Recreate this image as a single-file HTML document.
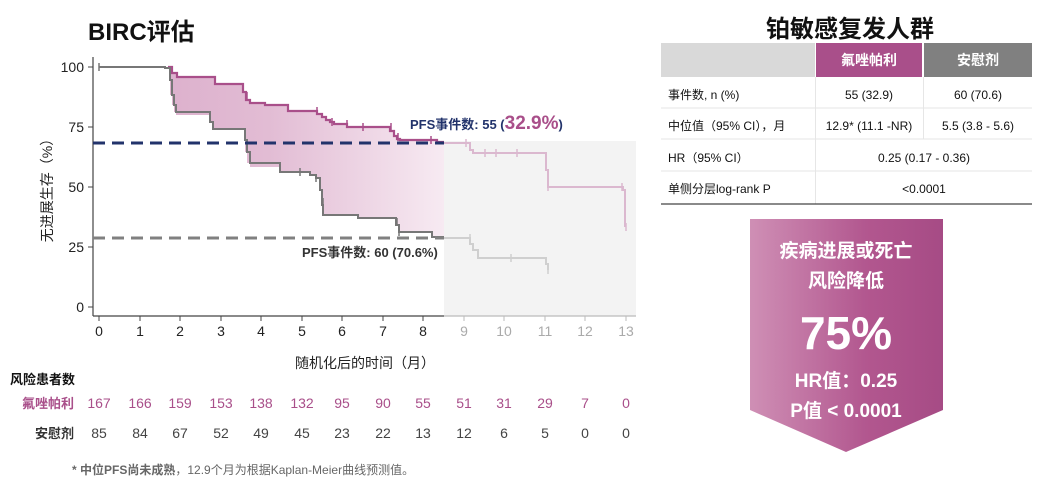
<!DOCTYPE html>
<html><head><meta charset="utf-8"><style>
body{margin:0;background:#fff;}
svg text{font-family:"Liberation Sans","Noto Sans CJK SC",sans-serif;}
</style></head><body>
<svg width="1054" height="483" viewBox="0 0 1054 483" xmlns="http://www.w3.org/2000/svg">
<defs>
<linearGradient id="fg" x1="93" x2="444" y1="0" y2="0" gradientUnits="userSpaceOnUse">
<stop offset="0" stop-color="#d9a9c8"/><stop offset="0.5" stop-color="#e2bcd4"/><stop offset="1" stop-color="#f7eaf2"/></linearGradient>
<linearGradient id="ag" x1="0" x2="1" y1="0" y2="0">
<stop offset="0" stop-color="#cf8fb5"/><stop offset="0.6" stop-color="#b2578f"/><stop offset="1" stop-color="#a64b85"/></linearGradient>
</defs>
<text x="88" y="40" font-size="24" font-weight="bold" fill="#111">BIRC评估</text>
<rect x="444" y="141" width="192" height="175" fill="#f3f3f3"/>
<path d="M168,67 H172 V73 H177 V77 H215 V84 H243 V92 H246 V100 H250 V103 H265 V105 H288 V111 H317 V114 H322 V117 H326 V120 H330 V122 H334 V124 H347 V127 H390 V131 H394 V136 H397 V139 H400 V140 H437 V142 H444 V237 H432 V232 H399 V225 H396 V218 H358 V215 H323 V205 H322 V190 H320 V178 H316 V175 H310 V172 H280 V167 H250 V163 H247 V152 H245 V140 H245 V129 H213 V122 H210 V115 H176 V112 H174 V105 H172 V95 H170 V80 H170 V68 H165 V67 Z" fill="url(#fg)"/>
<line x1="93" y1="57" x2="93" y2="316" stroke="#444" stroke-width="1.2"/>
<line x1="93" y1="316" x2="444" y2="316" stroke="#444" stroke-width="1.2"/>
<line x1="444" y1="316" x2="636" y2="316" stroke="#bbb" stroke-width="1.2"/>
<g stroke="#444"><line x1="88" y1="67" x2="93" y2="67"/><line x1="88" y1="127" x2="93" y2="127"/><line x1="88" y1="187" x2="93" y2="187"/><line x1="88" y1="247" x2="93" y2="247"/><line x1="88" y1="307" x2="93" y2="307"/></g>
<g font-size="14" fill="#222" text-anchor="end"><text x="84" y="72">100</text><text x="84" y="132">75</text><text x="84" y="192">50</text><text x="84" y="252">25</text><text x="84" y="312">0</text></g>
<g font-size="14" text-anchor="middle">
<g fill="#222"><text x="99" y="336">0</text><text x="140" y="336">1</text><text x="180" y="336">2</text><text x="221" y="336">3</text><text x="261" y="336">4</text><text x="302" y="336">5</text><text x="342" y="336">6</text><text x="383" y="336">7</text><text x="423" y="336">8</text></g>
<g fill="#aaa"><text x="464" y="336">9</text><text x="504" y="336">10</text><text x="545" y="336">11</text><text x="585" y="336">12</text><text x="626" y="336">13</text></g>
</g>
<g stroke="#444"><line x1="99" y1="316" x2="99" y2="321"/><line x1="140" y1="316" x2="140" y2="321"/><line x1="180" y1="316" x2="180" y2="321"/><line x1="221" y1="316" x2="221" y2="321"/><line x1="261" y1="316" x2="261" y2="321"/><line x1="302" y1="316" x2="302" y2="321"/><line x1="342" y1="316" x2="342" y2="321"/><line x1="383" y1="316" x2="383" y2="321"/><line x1="423" y1="316" x2="423" y2="321"/></g>
<g stroke="#bbb"><line x1="464" y1="316" x2="464" y2="321"/><line x1="504" y1="316" x2="504" y2="321"/><line x1="545" y1="316" x2="545" y2="321"/><line x1="585" y1="316" x2="585" y2="321"/><line x1="626" y1="316" x2="626" y2="321"/></g>
<text x="52" y="187" font-size="14" fill="#222" text-anchor="middle" transform="rotate(-90 52 187)">无进展生存（%）</text>
<text x="365" y="368" font-size="14" fill="#222" text-anchor="middle">随机化后的时间（月）</text>
<path d="M444,143 H470 V150 H473 V153 H546 V170 H548 V187 H623 V190 H625 V227" fill="none" stroke="#dbb8cf" stroke-width="2"/>
<path d="M444,238 H470 V244 H473 V250 H478 V258 H546 V264 H548 V270" fill="none" stroke="#cfcfcf" stroke-width="2"/>
<g stroke="#dbb8cf" stroke-width="1.5"><line x1="466" y1="139" x2="466" y2="147"/><line x1="485" y1="149" x2="485" y2="157"/><line x1="496" y1="149" x2="496" y2="157"/><line x1="517" y1="149" x2="517" y2="157"/><line x1="548" y1="183" x2="548" y2="191"/><line x1="622" y1="183" x2="622" y2="191"/><line x1="626" y1="223" x2="626" y2="231"/></g>
<g stroke="#cfcfcf" stroke-width="1.5"><line x1="470" y1="234" x2="470" y2="242"/><line x1="511" y1="254" x2="511" y2="262"/><line x1="548" y1="266" x2="548" y2="274"/></g>
<path d="M168,67 H172 V73 H177 V77 H215 V84 H243 V92 H246 V100 H250 V103 H265 V105 H288 V111 H317 V114 H322 V117 H326 V120 H330 V122 H334 V124 H347 V127 H390 V131 H394 V136 H397 V139 H400 V140 H437 V142 H444" fill="none" stroke="#a94f8a" stroke-width="2.2"/>
<path d="M99,67 H165 V68 H170 V80 H172 V95 H174 V105 H176 V112 H210 V115 H210 V122 H213 V129 H245 V140 H247 V152 H250 V163 H280 V167 H280 V172 H310 V175 H316 V178 H320 V190 H322 V205 H323 V215 H358 V218 H396 V225 H399 V232 H432 V237 H444" fill="none" stroke="#777" stroke-width="2"/>
<g stroke="#a94f8a" stroke-width="1.5"><line x1="247" y1="92" x2="247" y2="100"/><line x1="317" y1="107" x2="317" y2="115"/><line x1="332" y1="118" x2="332" y2="126"/><line x1="347" y1="120" x2="347" y2="128"/><line x1="363" y1="123" x2="363" y2="131"/><line x1="391" y1="123" x2="391" y2="131"/><line x1="398" y1="133" x2="398" y2="141"/><line x1="431" y1="136" x2="431" y2="144"/></g>
<g stroke="#777" stroke-width="1.5"><line x1="99" y1="63" x2="99" y2="71"/><line x1="300" y1="168" x2="300" y2="176"/><line x1="316" y1="174" x2="316" y2="182"/><line x1="323" y1="198" x2="323" y2="206"/><line x1="397" y1="218" x2="397" y2="226"/><line x1="399" y1="228" x2="399" y2="236"/></g>
<line x1="93" y1="143" x2="444" y2="143" stroke="#22336b" stroke-width="3" stroke-dasharray="12,7"/>
<line x1="93" y1="238" x2="444" y2="238" stroke="#808080" stroke-width="3" stroke-dasharray="12,7"/>
<text x="410" y="129" font-size="13" font-weight="bold" fill="#22336b">PFS事件数: 55 (<tspan font-size="19" fill="#a94f8a">32.9%</tspan>)</text>
<text x="302" y="257" font-size="13" font-weight="bold" fill="#333">PFS事件数: 60 (70.6%)</text>
<text x="10" y="384" font-size="13" font-weight="bold" fill="#111">风险患者数</text>
<text x="22" y="408" font-size="13" font-weight="bold" fill="#a94f8a">氟唑帕利</text>
<text x="35" y="438" font-size="13" font-weight="bold" fill="#333">安慰剂</text>
<g font-size="14" fill="#a94f8a" text-anchor="middle"><text x="99" y="408">167</text><text x="140" y="408">166</text><text x="180" y="408">159</text><text x="221" y="408">153</text><text x="261" y="408">138</text><text x="302" y="408">132</text><text x="342" y="408">95</text><text x="383" y="408">90</text><text x="423" y="408">55</text><text x="464" y="408">51</text><text x="504" y="408">31</text><text x="545" y="408">29</text><text x="585" y="408">7</text><text x="626" y="408">0</text></g>
<g font-size="14" fill="#444" text-anchor="middle"><text x="99" y="438">85</text><text x="140" y="438">84</text><text x="180" y="438">67</text><text x="221" y="438">52</text><text x="261" y="438">49</text><text x="302" y="438">45</text><text x="342" y="438">23</text><text x="383" y="438">22</text><text x="423" y="438">13</text><text x="464" y="438">12</text><text x="504" y="438">6</text><text x="545" y="438">5</text><text x="585" y="438">0</text><text x="626" y="438">0</text></g>
<text x="72" y="474" font-size="12" fill="#666"><tspan font-weight="bold">* 中位PFS尚未成熟</tspan>，12.9个月为根据Kaplan-Meier曲线预测值。</text>
<text x="850" y="37" font-size="24" font-weight="bold" fill="#111" text-anchor="middle">铂敏感复发人群</text>
<rect x="661" y="43" width="154" height="34" fill="#d9d9d9"/>
<rect x="816" y="43" width="106" height="34" fill="#a94f8a"/>
<rect x="924" y="43" width="108" height="34" fill="#808080"/>
<text x="869" y="65" font-size="14" font-weight="bold" fill="#fff" text-anchor="middle">氟唑帕利</text>
<text x="978" y="65" font-size="14" font-weight="bold" fill="#fff" text-anchor="middle">安慰剂</text>
<g stroke="#e6e6e6" stroke-width="1"><line x1="661" y1="108" x2="1032" y2="108"/><line x1="661" y1="139" x2="1032" y2="139"/><line x1="661" y1="171" x2="1032" y2="171"/><line x1="815.5" y1="77" x2="815.5" y2="204"/><line x1="923.5" y1="77" x2="923.5" y2="139"/></g>
<line x1="661" y1="204" x2="1032" y2="204" stroke="#444" stroke-width="1.2"/>
<g font-size="12" fill="#111"><text x="668" y="99">事件数, n (%)</text><text x="668" y="130">中位值（95% CI），月</text><text x="668" y="162">HR（95% CI）</text><text x="668" y="193">单侧分层log-rank P</text></g>
<g font-size="12" fill="#111" text-anchor="middle"><text x="869" y="99">55 (32.9)</text><text x="978" y="99">60 (70.6)</text><text x="869" y="130">12.9* (11.1 -NR)</text><text x="978" y="130">5.5 (3.8 - 5.6)</text><text x="924" y="162">0.25 (0.17 - 0.36)</text><text x="924" y="193">&lt;0.0001</text></g>
<polygon points="750,219 943,219 943,410 846,452 750,410" fill="url(#ag)"/>
<g fill="#fff" font-weight="bold" text-anchor="middle"><text x="846" y="257" font-size="19">疾病进展或死亡</text><text x="846" y="287" font-size="19">风险降低</text><text x="846" y="349" font-size="46">75%</text><text x="846" y="387" font-size="19">HR值：0.25</text><text x="846" y="417" font-size="19">P值 &lt; 0.0001</text></g>
</svg>
</body></html>
